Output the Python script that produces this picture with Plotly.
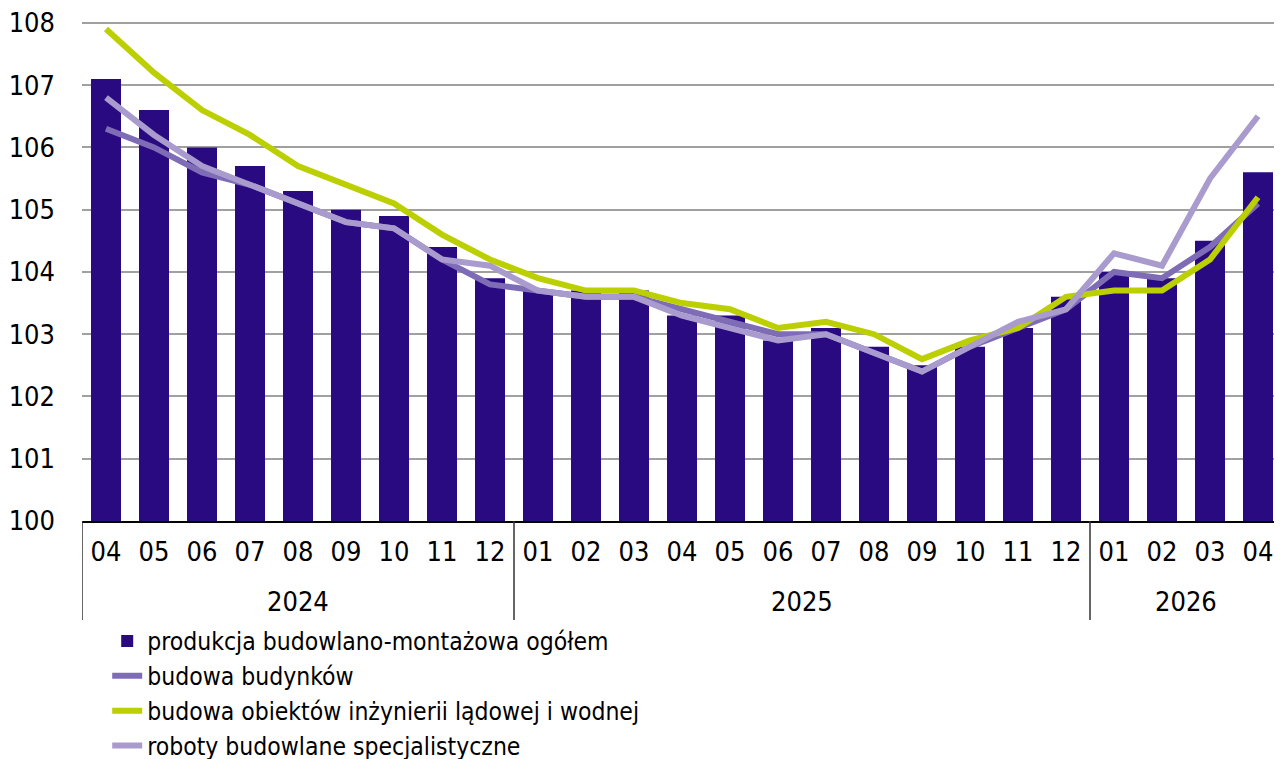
import plotly.graph_objects as go

# Categories: rok / miesiąc
years = ["2024"] * 9 + ["2025"] * 12 + ["2026"] * 4
months = ["04", "05", "06", "07", "08", "09", "10", "11", "12",
          "01", "02", "03", "04", "05", "06", "07", "08", "09", "10", "11", "12",
          "01", "02", "03", "04"]

# Series
ogolem = [107.1, 106.6, 106.0, 105.7, 105.3, 105.0, 104.9, 104.4, 103.9,
          103.7, 103.7, 103.7, 103.3, 103.3, 102.9, 103.1, 102.8, 102.5, 102.8, 103.1, 103.6,
          104.0, 103.9, 104.5, 105.6]
budynki = [106.3, 106.0, 105.6, 105.4, 105.1, 104.8, 104.7, 104.2, 103.8,
           103.7, 103.6, 103.6, 103.4, 103.2, 103.0, 103.0, 102.7, 102.4, 102.8, 103.1, 103.4,
           104.0, 103.9, 104.4, 105.1]
inzynieria = [107.9, 107.2, 106.6, 106.2, 105.7, 105.4, 105.1, 104.6, 104.2,
              103.9, 103.7, 103.7, 103.5, 103.4, 103.1, 103.2, 103.0, 102.6, 102.9, 103.1, 103.6,
              103.7, 103.7, 104.2, 105.2]
specjalistyczne = [106.8, 106.2, 105.7, 105.4, 105.1, 104.8, 104.7, 104.2, 104.1,
                   103.7, 103.6, 103.6, 103.3, 103.1, 102.9, 103.0, 102.7, 102.4, 102.8, 103.2, 103.4,
                   104.3, 104.1, 105.5, 106.5]

# unique category keys, months shown as tick text
x = [y + "-" + m for y, m in zip(years, months)]
FONT = "DejaVu Sans Condensed, sans-serif"

fig = go.Figure()
fig.add_trace(go.Bar(x=x, y=ogolem, name="produkcja budowlano-montażowa ogółem",
                     marker=dict(color="#2a0a80", line=dict(width=0))))
fig.add_trace(go.Scatter(x=x, y=budynki, name="budowa budynków", mode="lines",
                         line=dict(color="#7f6cb6", width=6)))
fig.add_trace(go.Scatter(x=x, y=inzynieria, name="budowa obiektów inżynierii lądowej i wodnej",
                         mode="lines", line=dict(color="#bccf00", width=6)))
fig.add_trace(go.Scatter(x=x, y=specjalistyczne, name="roboty budowlane specjalistyczne",
                         mode="lines", line=dict(color="#a99bcd", width=6)))

# year groups: label in the middle, dividers at the edges
year_list = []
for y in years:
    if y not in year_list:
        year_list.append(y)
bounds = [-0.5]
for y in year_list:
    first = years.index(y)
    last = len(years) - 1 - years[::-1].index(y)
    fig.add_annotation(x=(first + last) / 2, y=-0.16, xref="x", yref="paper",
                       text=y, showarrow=False, font=dict(size=27), yanchor="middle")
    bounds.append(last + 0.5)
for b in bounds:
    fig.add_shape(type="line", x0=b, x1=b, xref="x", y0=0, y1=-0.198, yref="paper",
                  line=dict(color="#333333", width=1.5))

# page body adds an 8px margin: figure shifted by 8px, bottom part runs off the page
fig.update_layout(
    width=1274, height=775,
    margin=dict(l=74, r=0, t=13, b=262, autoexpand=False),
    plot_bgcolor="white", paper_bgcolor="white",
    font=dict(family=FONT, size=27, color="black"),
    bargap=0.375,
    showlegend=True,
    legend=dict(orientation="v", x=0.021, xanchor="left", y=-0.195, yanchor="top",
                font=dict(size=24.5), tracegroupgap=0, traceorder="normal",
                bgcolor="rgba(0,0,0,0)"),
)
fig.update_yaxes(range=[100, 108.03], tickvals=[100, 101, 102, 103, 104, 105, 106, 107, 108],
                 showgrid=True, gridcolor="#a0a0a0", gridwidth=1.5,
                 zeroline=False, showline=False, ticks="", ticklabelstandoff=26,
                 ticklabeloverflow="allow", automargin=False)
fig.update_xaxes(type="category", range=[-0.5, len(x) - 0.5], tickvals=x, ticktext=months,
                 showgrid=False, showline=True, linecolor="black", linewidth=1.5,
                 ticks="", ticklabelstandoff=6, automargin=False)

fig.write_html("out.html")
